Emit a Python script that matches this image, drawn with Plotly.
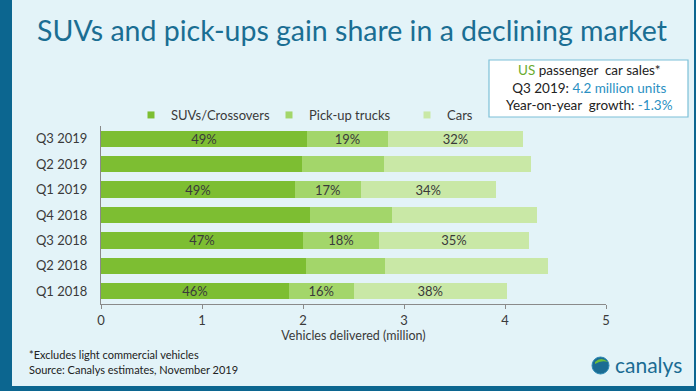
import plotly.graph_objects as go

quarters = ["Q1 2018", "Q2 2018", "Q3 2018", "Q4 2018", "Q1 2019", "Q2 2019", "Q3 2019"]
suvs = [1.86, 2.03, 2.00, 2.07, 1.92, 1.99, 2.04]
pickups = [0.64, 0.78, 0.75, 0.81, 0.65, 0.81, 0.80]
cars = [1.52, 1.62, 1.49, 1.44, 1.34, 1.46, 1.34]
suv_share = ["46%", "", "47%", "", "49%", "", "49%"]
pickup_share = ["16%", "", "18%", "", "17%", "", "19%"]
car_share = ["38%", "", "35%", "", "34%", "", "32%"]
x_ticks = [0, 1, 2, 3, 4, 5]

W, H = 696, 391
L, R, T, B = 101, 90, 126, 87
PW, PH = W - L - R, H - T - B

def px(x):
    return (x - L) / PW

def py(y):
    return 1 - (y - T) / PH

FONT = "Lato"
TXT = "#3a3a3a"

fig = go.Figure()
series = [
    ("SUVs/Crossovers", suvs, suv_share, "#7dbe32"),
    ("Pick-up trucks", pickups, pickup_share, "#a3d66a"),
    ("Cars", cars, car_share, "#c9e8a6"),
]
for name, vals, labels, color in series:
    fig.add_trace(go.Bar(
        y=quarters, x=vals, name=name, orientation="h",
        marker=dict(color=color, line=dict(width=0)),
        text=labels, textposition="inside", insidetextanchor="middle",
        constraintext="none", cliponaxis=False,
        textfont=dict(family=FONT, size=13, color=TXT),
        hoverinfo="x+y+name", showlegend=False, legendgroup=name,
    ))
for name, vals, labels, color in series:
    fig.add_trace(go.Scatter(
        x=[None], y=[None], mode="markers", name=name, legendgroup=name,
        marker=dict(symbol="square", size=7, color=color),
    ))

shapes = []
shapes.append(dict(type="rect", xref="paper", yref="paper", x0=px(0), x1=px(12), y0=py(0), y1=py(H),
                   fillcolor="#0c6690", line=dict(width=0), layer="below"))
shapes.append(dict(type="rect", xref="paper", yref="paper", x0=px(0), x1=px(W), y0=py(386), y1=py(H),
                   fillcolor="#0c6690", line=dict(width=0), layer="below"))
shapes.append(dict(type="rect", xref="paper", yref="paper", x0=px(694), x1=px(W), y0=py(0), y1=py(H),
                   fillcolor="#0c6690", line=dict(width=0), layer="below"))
shapes.append(dict(type="rect", xref="paper", yref="paper", x0=px(489), x1=px(688), y0=py(60), y1=py(117),
                   fillcolor="white", line=dict(color="#7cc0d8", width=1.2), layer="below"))
shapes.append(dict(type="circle", xref="paper", yref="paper", x0=px(592), x1=px(609), y0=py(357), y1=py(374),
                   fillcolor="#1b6c93", line=dict(color="#2d8ab5", width=1)))
shapes.append(dict(type="path", xref="paper", yref="paper",
                   path=f"M {px(595)},{py(362)} Q {px(601)},{py(356)} {px(608)},{py(362)} Q {px(601)},{py(360)} {px(595)},{py(364)} Z",
                   fillcolor="#6fbf3a", line=dict(width=0)))

annotations = [
    dict(text="SUVs and pick-ups gain share in a declining market", xref="paper", yref="paper",
         x=px(352), y=py(30), xanchor="center", yanchor="middle", showarrow=False,
         font=dict(family=FONT, size=28.5, color="#1a6e93")),
    dict(text='<span style="color:#6aab2e">US</span> passenger  car sales*<br>'
              'Q3 2019: <span style="color:#2a90c2">4.2 million units</span><br>'
              'Year-on-year  growth: <span style="color:#2a90c2">-1.3%</span>',
         xref="paper", yref="paper", x=px(589), y=py(88), xanchor="center", yanchor="middle",
         showarrow=False, align="center",
         font=dict(family=FONT, size=13.5, color="#222")),
    dict(text="*Excludes light commercial vehicles", xref="paper", yref="paper",
         x=px(27), y=py(354), xanchor="left", yanchor="middle", showarrow=False,
         font=dict(family=FONT, size=11, color="#222")),
    dict(text="Source: Canalys estimates, November 2019", xref="paper", yref="paper",
         x=px(27), y=py(369), xanchor="left", yanchor="middle", showarrow=False,
         font=dict(family=FONT, size=11, color="#222")),
    dict(text="canalys", xref="paper", yref="paper",
         x=px(613), y=py(364), xanchor="left", yanchor="middle", showarrow=False,
         font=dict(family=FONT, size=21, color="#1b6c93")),
]

fig.update_layout(
    width=W, height=H,
    margin=dict(l=L, r=R, t=T, b=B, pad=0),
    paper_bgcolor="#e3f3f8", plot_bgcolor="rgba(0,0,0,0)",
    barmode="stack", bargap=0.36,
    font=dict(family=FONT, size=13, color=TXT),
    showlegend=True,
    legend=dict(orientation="h", x=px(131), y=py(115), xanchor="left", yanchor="middle",
                bgcolor="rgba(0,0,0,0)", font=dict(family=FONT, size=13, color=TXT),
                entrywidth=93, entrywidthmode="pixels", traceorder="normal", itemclick=False),
    xaxis=dict(range=[0, 5], tickvals=x_ticks, showgrid=False, zeroline=False,
               showline=True, linecolor="#8a8a8a", linewidth=1, ticks="outside", ticklen=4,
               tickcolor="#8a8a8a", tickfont=dict(family=FONT, size=13, color=TXT),
               title=dict(text="Vehicles delivered (million)", standoff=4,
                          font=dict(family=FONT, size=12.5, color=TXT))),
    yaxis=dict(showgrid=False, zeroline=False, showline=True, linecolor="#8a8a8a", linewidth=1,
               ticks="", tickfont=dict(family=FONT, size=13, color=TXT), ticklabelstandoff=10,
               categoryorder="array", categoryarray=quarters),
    shapes=shapes, annotations=annotations,
)

fig.write_html("out.html", config={"displayModeBar": False},
               post_script="document.body.style.margin='0';document.body.style.overflow='hidden';")
